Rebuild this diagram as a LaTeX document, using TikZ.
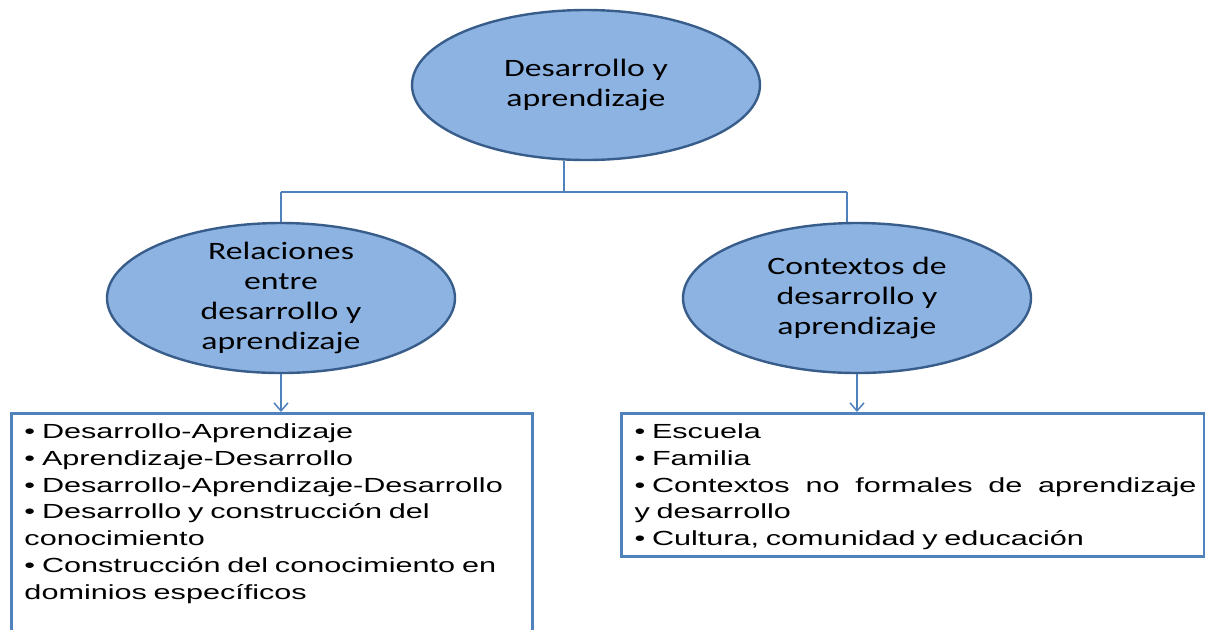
\documentclass[tikz,border=0pt]{standalone}
\usepackage{fontspec}
\usepackage{tikz}
\usetikzlibrary{shapes.geometric,arrows.meta}

\newfontfamily\ellfont[FakeStretch=1.35]{Carlito}
\newfontfamily\boxfont[FakeStretch=1.5]{Liberation Sans}

\definecolor{ellfill}{HTML}{8DB3E2}
\definecolor{ellline}{HTML}{385D8A}
\definecolor{linkblue}{HTML}{4F81BD}

\begin{document}
\begin{tikzpicture}[x=0.5pt,y=-0.5pt,
	>={Straight Barb[length=4pt,width=7pt]},
	topic/.style={ellipse, draw=ellline, line width=1.2pt, fill=ellfill,
		minimum width=174pt, minimum height=75pt, inner xsep=0pt, inner ysep=-12pt,
		align=center, font=\ellfont\fontsize{12.5pt}{15pt}\selectfont},
	listbox/.style={draw=linkblue, line width=1.5pt, anchor=north west,
		inner xsep=6.5pt, inner ysep=5.3pt, align=left,
		font=\boxfont\fontsize{10.2pt}{13.35pt}\selectfont},
	link/.style={draw=linkblue, line width=0.75pt}]

	% ---- parameters

	\def\ctxw{278.5pt}
	\def\justw{281pt}

	% ---- canvas

	\useasboundingbox (0,0) rectangle (1205,629);

	% ---- ellipses

	\node[topic] (main) at (586,85) {Desarrollo y\\aprendizaje};
	\node[topic] (rel) at (281,298) {Relaciones\\entre\\desarrollo y\\aprendizaje};
	\node[topic] (ctx) at (857,298) {Contextos de\\desarrollo y\\aprendizaje};

	% ---- boxes

	\node[listbox, text width=247.5pt, text depth=101pt] (relbox) at (10,412) {%
		• Desarrollo-Aprendizaje\\
		• Aprendizaje-Desarrollo\\
		• Desarrollo-Aprendizaje-Desarrollo\\
		• Desarrollo y construcción del\\
		conocimiento\\
		• Construcción del conocimiento en\\
		dominios específicos};

	\node[listbox, text width=\ctxw, text depth=53.6pt] (ctxbox) at (620,412) {%
		• Escuela\\
		• Familia\\
		\makebox[\justw][l]{• Contextos \hfill no \hfill formales \hfill de \hfill aprendizaje}\\
		y desarrollo\\
		• Cultura, comunidad y educación};

	% ---- connectors

	\coordinate (hub) at (564,192);
	\coordinate (relhub) at (281,192);
	\coordinate (ctxhub) at (847,192);

	\draw[link] (hub |- main.south) -- (hub);
	\draw[link] (relhub) -- (ctxhub);
	\draw[link] (relhub) -- (rel.north);
	\draw[link] (ctxhub) -- (ctxhub |- ctx.north);

	% ---- arrows

	\draw[link, ->] (rel.south) -- (rel.south |- relbox.north);
	\draw[link, ->] (ctx.south) -- (ctx.south |- ctxbox.north);

\end{tikzpicture}
\end{document}
